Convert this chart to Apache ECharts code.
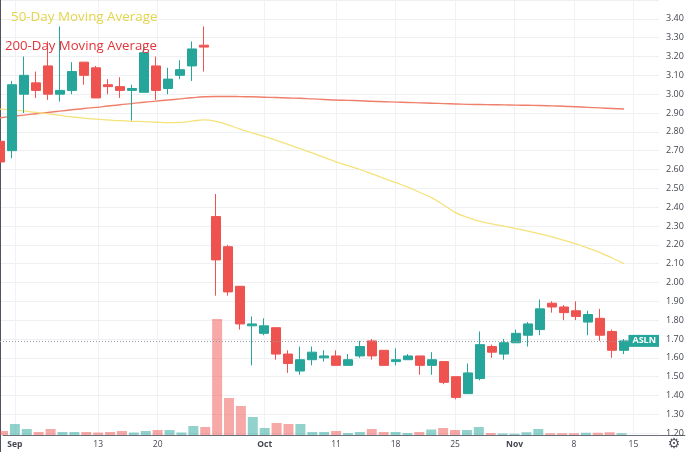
<!DOCTYPE html>
<html><head><meta charset="utf-8">
<script src="https://cdn.jsdelivr.net/npm/echarts@6/dist/echarts.min.js"></script>
<style>html,body{margin:0;padding:0;background:#fff}#c{width:688px;height:452px}</style>
</head><body><div id="c"></div>
<script>
const dates = ['Aug 31','Sep 1','Sep 2','Sep 3','Sep 7','Sep 8','Sep 9','Sep 10','Sep 13','Sep 14','Sep 15','Sep 16','Sep 17',
  'Sep 20','Sep 21','Sep 22','Sep 23','Sep 24','Sep 27','Sep 28','Sep 29','Sep 30','Oct 1','Oct 4','Oct 5','Oct 6','Oct 7','Oct 8',
  'Oct 11','Oct 12','Oct 13','Oct 14','Oct 15','Oct 18','Oct 19','Oct 20','Oct 21','Oct 22','Oct 25','Oct 26','Oct 27','Oct 28','Oct 29',
  'Nov 1','Nov 2','Nov 3','Nov 4','Nov 5','Nov 8','Nov 9','Nov 10','Nov 11','Nov 12'];
const futureDates = ['Nov 15','Nov 16','Nov 17','Nov 18','Nov 19'];
const open  = [2.75,2.70,3.00,3.06,3.15,3.00,3.02,3.17,3.14,3.05,3.04,3.02,3.01,3.15,3.03,3.10,3.15,3.26,2.35,2.19,1.98,1.77,1.73,1.76,1.62,1.53,1.59,1.60,1.61,1.56,1.61,1.69,1.64,1.58,1.59,1.61,1.56,1.58,1.50,1.41,1.49,1.66,1.62,1.68,1.72,1.75,1.89,1.87,1.85,1.79,1.81,1.74,1.64];
const close = [2.64,3.05,3.10,3.02,3.00,3.02,3.12,3.10,2.98,3.04,3.02,3.03,3.22,3.02,3.08,3.13,3.24,3.25,2.12,1.95,1.78,1.78,1.77,1.62,1.57,1.59,1.63,1.61,1.56,1.59,1.66,1.61,1.56,1.59,1.61,1.56,1.59,1.47,1.39,1.52,1.67,1.63,1.68,1.73,1.78,1.86,1.87,1.84,1.82,1.83,1.72,1.64,1.69];
const low   = [2.62,2.66,2.90,2.98,2.97,2.96,3.00,3.05,2.98,3.00,2.98,2.86,3.01,2.97,3.00,3.08,3.07,3.12,1.93,1.93,1.75,1.56,1.72,1.59,1.52,1.51,1.56,1.58,1.56,1.56,1.60,1.59,1.56,1.56,1.59,1.51,1.51,1.46,1.38,1.41,1.48,1.60,1.59,1.68,1.66,1.72,1.84,1.80,1.80,1.72,1.69,1.60,1.62];
const high  = [2.78,3.07,3.20,3.12,3.28,3.36,3.17,3.17,3.15,3.08,3.09,3.05,3.25,3.20,3.14,3.18,3.28,3.36,2.47,2.20,1.98,1.82,1.81,1.76,1.64,1.66,1.66,1.64,1.64,1.62,1.69,1.70,1.64,1.65,1.62,1.61,1.63,1.58,1.50,1.57,1.74,1.67,1.70,1.75,1.79,1.91,1.90,1.88,1.90,1.85,1.86,1.75,1.70];
const volume = [80,220,120,60,120,60,60,60,50,60,80,50,80,100,100,50,180,160,2320,740,580,360,140,240,220,220,60,60,80,40,60,120,60,60,40,60,110,140,100,100,160,40,30,25,55,120,35,35,35,45,45,55,35];
const ma50  = [2.921,2.916,2.911,2.903,2.895,2.887,2.879,2.873,2.867,2.863,2.859,2.856,2.854,2.851,2.849,2.850,2.857,2.863,2.856,2.837,2.815,2.795,2.776,2.755,2.734,2.711,2.688,2.664,2.641,2.620,2.600,2.577,2.553,2.530,2.506,2.478,2.449,2.410,2.370,2.345,2.325,2.311,2.299,2.286,2.273,2.258,2.242,2.224,2.205,2.183,2.159,2.130,2.100];
const ma200 = [2.875,2.882,2.889,2.896,2.903,2.910,2.917,2.924,2.930,2.937,2.944,2.950,2.957,2.963,2.969,2.975,2.981,2.986,2.988,2.988,2.987,2.986,2.984,2.982,2.980,2.978,2.975,2.972,2.969,2.967,2.965,2.962,2.960,2.958,2.956,2.954,2.952,2.950,2.948,2.946,2.945,2.944,2.943,2.942,2.941,2.940,2.938,2.936,2.933,2.930,2.927,2.924,2.921];
const tickDates  = ['Sep 1','Sep 13','Sep 20','Oct 1','Oct 11','Oct 18','Oct 25','Nov 1','Nov 8','Nov 15'];
const tickLabels = ['Sep','13','20','Oct','11','18','25','Nov','8','15'];
const monthLabels = ['Sep','Oct','Nov'];
const ticker = 'ASLN';
const priceMin = 1.1, priceMax = 3.5, priceStep = 0.1;

const UP = '#26a69a', DOWN = '#ef5350';
const axisDates = dates.concat(futureDates);
const tickIdx = tickDates.map(d => axisDates.indexOf(d));
const labelAt = {};
tickIdx.forEach((ix, k) => labelAt[ix] = tickLabels[k]);

const candles = dates.map((d, i) => [i, open[i], close[i], low[i], high[i]]);
const vol = dates.map((d, i) => ({
  value: [i, volume[i]],
  itemStyle: { color: close[i] >= open[i] ? 'rgba(38,166,154,0.5)' : 'rgba(239,83,80,0.5)' }
}));

const chart = echarts.init(document.getElementById('c'), null, { renderer: 'canvas' });
const step = 12; // px per trading day
chart.setOption({
  animation: false,
  backgroundColor: '#ffffff',
  grid: [
    { left: 0, right: 29, top: -10.5, bottom: 0 },
    { left: 0, right: 0, top: 0, bottom: 17 }
  ],
  xAxis: [
    { type: 'value', gridIndex: 0, min: 0, max: 659 / step, show: false },
    { type: 'value', gridIndex: 1, min: 0, max: 688 / step, interval: 1,
      axisLine: { show: true, lineStyle: { color: '#6a6d78', width: 1 } },
      axisTick: { show: false }, splitLine: { show: false },
      axisLabel: {
        margin: 5, fontSize: 8.5, color: '#434651', fontFamily: 'Open Sans',
        showMinLabel: true, showMaxLabel: true,
        formatter: v => {
          const t = labelAt[Math.round(v)];
          if (!t) return '';
          return monthLabels.includes(t) ? '{b|' + t + '}' : t;
        },
        rich: { b: { fontWeight: 'bold', fontSize: 8.5, color: '#434651', fontFamily: 'Open Sans' } }
      }
    }
  ],
  yAxis: [
    { type: 'value', gridIndex: 0, position: 'right', min: priceMin, max: priceMax, interval: priceStep,
      axisLine: { show: true, lineStyle: { color: '#50535e', width: 1 } },
      axisTick: { show: false },
      axisLabel: { fontSize: 9, color: '#434651', fontFamily: 'Open Sans', margin: 7,
        showMinLabel: false, showMaxLabel: false, formatter: v => v.toFixed(2) },
      splitLine: { show: true, lineStyle: { color: '#eef0f4', width: 1 } }
    },
    { type: 'value', gridIndex: 1, min: 0, max: 8700, show: false }
  ],
  series: [
    { type: 'bar', name: 'Volume', xAxisIndex: 1, yAxisIndex: 1, data: vol, barWidth: 10, z: 1,
      markLine: { silent: true, symbol: 'none', z: 0, label: { show: false },
        lineStyle: { color: '#f0f2f6', width: 1, type: 'solid' },
        data: tickIdx.map(ix => ({ xAxis: ix })) } },
    { type: 'line', name: '200-Day', xAxisIndex: 0, yAxisIndex: 0, data: ma200.map((v, i) => [i, v]),
      showSymbol: false, smooth: true, z: 2, lineStyle: { color: '#ef7f6b', width: 1.4 } },
    { type: 'line', name: '50-Day', xAxisIndex: 0, yAxisIndex: 0, data: ma50.map((v, i) => [i, v]),
      showSymbol: false, smooth: true, z: 2, lineStyle: { color: '#f5e27a', width: 1.3 } },
    { type: 'candlestick', name: ticker, xAxisIndex: 0, yAxisIndex: 0, data: candles, barWidth: 9, z: 3,
      itemStyle: { color: UP, color0: DOWN, borderColor: UP, borderColor0: DOWN, borderWidth: 1 },
      markLine: { silent: true, symbol: 'none',
        lineStyle: { type: [1, 2], color: '#9a9da6', width: 1 },
        label: { show: true, position: 'insideEnd', distance: 0, formatter: ticker,
          backgroundColor: UP, color: '#ffffff', fontSize: 9, fontWeight: 'bold', fontFamily: 'Open Sans',
          padding: [2, 3, 1, 4] },
        data: [{ yAxis: close[close.length - 1] }] } }
  ],
  graphic: [
    { type: 'text', z: 100, style: { x: 11, y: 17, text: '50-Day Moving Average', fill: '#e4d54a',
      font: '13.4px "Open Sans"', align: 'left', verticalAlign: 'middle' } },
    { type: 'text', z: 100, style: { x: 5, y: 46, text: '200-Day Moving Average', fill: '#e2343a',
      font: '13.2px "Open Sans"', align: 'left', verticalAlign: 'middle' } },
    { type: 'text', z: 100, style: { x: 674, y: 444, text: '\u2699', fill: '#50535e',
      font: '14px "DejaVu Sans"', align: 'center', verticalAlign: 'middle' } }
  ]
});
</script></body></html>
